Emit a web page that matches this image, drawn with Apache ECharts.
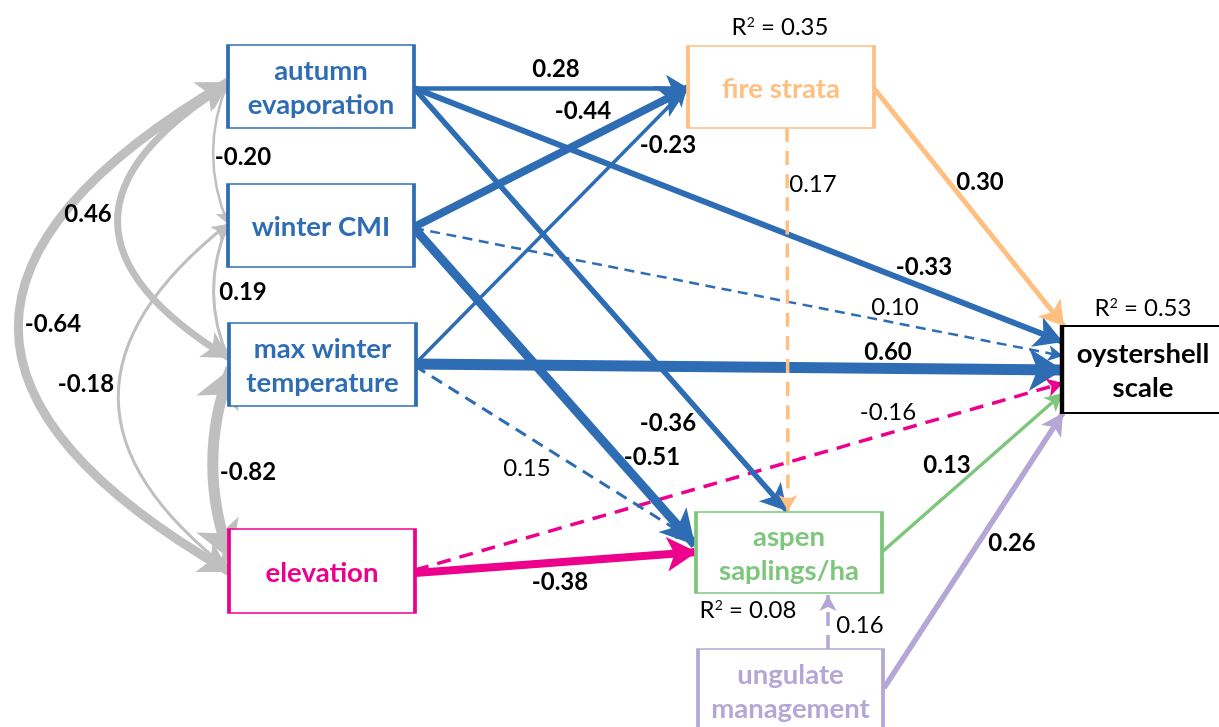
<!DOCTYPE html>
<html><head><meta charset="utf-8">
<script src="https://cdn.jsdelivr.net/npm/echarts@6/dist/echarts.min.js"></script>
<style>html,body{margin:0;padding:0;background:#fff}#c{width:1219px;height:727px}</style>
</head><body><div id="c"></div>
<script>
// ---------------- data ----------------
const nodes = ['autumn evaporation','winter CMI','max winter temperature','elevation','fire strata','aspen saplings/ha','ungulate management','oystershell scale'];
const pathFrom = ['autumn evaporation','winter CMI','max winter temperature','autumn evaporation','winter CMI','max winter temperature','elevation','autumn evaporation','winter CMI','max winter temperature','elevation','fire strata','fire strata','aspen saplings/ha','ungulate management','ungulate management'];
const pathTo = ['fire strata','fire strata','fire strata','oystershell scale','oystershell scale','oystershell scale','oystershell scale','aspen saplings/ha','aspen saplings/ha','aspen saplings/ha','aspen saplings/ha','aspen saplings/ha','oystershell scale','oystershell scale','aspen saplings/ha','oystershell scale'];
const pathCoef = [0.28,-0.44,-0.23,-0.33,0.10,0.60,-0.16,-0.36,-0.51,0.15,-0.38,0.17,0.30,0.13,0.16,0.26];
const pathSignificant = [true,true,true,true,false,true,false,true,true,false,true,false,true,true,false,true];
const corrA = ['autumn evaporation','winter CMI','max winter temperature','autumn evaporation','winter CMI','autumn evaporation'];
const corrB = ['winter CMI','max winter temperature','elevation','max winter temperature','elevation','elevation'];
const corrCoef = [-0.20,0.19,-0.82,0.46,-0.18,-0.64];
const r2Nodes = ['fire strata','oystershell scale','aspen saplings/ha'];
const r2Values = [0.35,0.53,0.08];

// ---------------- layout & style ----------------
const blue='#2E6DB4', pink='#EC008C', peach='#FFBF80', green='#7DC67B', purple='#B4A7D6', gray='#BFBFBF';
const nodeLayout = {
  'autumn evaporation':     {c:[321,86.5],  s:[186,83], color:blue,   text:'autumn\nevaporation', off:[0,2], bw:2.5},
  'winter CMI':             {c:[321,225.5], s:[186,83], color:blue,   text:'winter CMI', off:[0,2], bw:2.5},
  'max winter temperature': {c:[322.5,364.5], s:[187,83], color:blue, text:'max winter\ntemperature', off:[0,2], bw:2.5},
  'elevation':              {c:[322,571],   s:[186,84], color:pink,   text:'elevation', off:[0,2], bw:2.5},
  'fire strata':            {c:[781,87],    s:[186,82], color:peach,  text:'fire strata', off:[0,2], bw:2.5},
  'aspen saplings/ha':      {c:[789,552.5], s:[186,81], color:green,  text:'aspen\nsaplings/ha', off:[0,2], bw:2.5},
  'ungulate management':    {c:[790.5,690.5], s:[185,83], color:purple, text:'ungulate\nmanagement', off:[0,2], bw:2.5},
  'oystershell scale':      {c:[1155,369.5], s:[186,87], color:'#000', text:'oystershell\nscale', off:[-12,2], bw:3}
};
// anchors [x1,y1,x2,y2], width, arrow [length, base], label position
const pathGeom = [[414,88,688,88],[414,227,688,88],[415,364,687,88],[414,88,1063,342],[414,228,1063,356],[414,364,1063,370],[415,570,1063,383],[414,88,787,511],[414,228,695,545],[415,366,693,540],[415,573,697,552],[787,128,788,511],[873,87,1064,326],[882,552,1063,393],[828,649,828,595],[884,688,1063,413]];
const pathWidth = [4.5,8,3.5,6,2.5,11,3.5,5.5,9,3,8,3.5,5,3.5,3.5,5.5];
const pathArrow = [[22,20],[30,26],[18,15],[28,24],[15,12],[34,32],[16,14],[26,22],[34,28],[16,13],[30,26],[16,14],[24,22],[18,14],[16,13],[22,18]];
const pathLabelPos = [[556,69],[583,111],[668,145],[924,267],[895,307],[888,352],[888,412],[668,423],[652,457],[527,468],[560,582],[813,184],[980,182],[947,465],[860,625],[1012,543]];
const corrGeom = [[228,82,228,224],[228,224,229,360],[231,368,231,560],[228,84,229,358],[228,224,230,570],[228,82,230,572]];
const corrCurve = [-0.21,-0.22,-0.19,-0.81,-0.64,-0.86];
const corrWidth = [2.5,3,11,7,3,9];
const corrArrow = [[14,11],[14,12],[38,34],[26,22],[16,13],[30,26]];
const corrLabelPos = [[243,157],[243,292],[248,472],[88,214],[86,384],[53,324]];
const r2LabelPos = [[780,27],[1143,308],[748,610]];

const FONT = 'Lato';

function mkLine(g, c, width, color, dashed, arrow, both) {
  const L = arrow[0], B = arrow[1];
  return {
    coords: [[g[0], g[1]], [g[2], g[3]]],
    lineStyle: {width: width, color: color, type: dashed ? [width*4, width*2.6] : 'solid', curveness: c || 0, opacity: 1},
    symbol: both ? ['arrow','arrow'] : ['none','arrow'],
    symbolSize: [[B, L],[B, L]]
  };
}

const lineData = [];
corrCoef.forEach((v,i) => lineData.push(mkLine(corrGeom[i], corrCurve[i], corrWidth[i], gray, false, corrArrow[i], true)));
pathCoef.forEach((v,i) => lineData.push(mkLine(pathGeom[i], 0, pathWidth[i], nodeLayout[pathFrom[i]].color, !pathSignificant[i], pathArrow[i], false)));

const boxData = nodes.map(n => {
  const l = nodeLayout[n];
  return {
    name: n, value: l.c, symbolSize: l.s,
    itemStyle: {color:'#fff', borderColor: l.color, borderWidth: l.bw, opacity: 1},
    label: {show:true, position:'inside', offset: l.off, formatter: l.text, color: l.color, fontFamily: FONT, fontWeight:'bold', fontSize: 27.5, lineHeight: 34}
  };
});

const fmt = v => v.toFixed(2);
const textData = [];
corrCoef.forEach((v,i) => textData.push({value: corrLabelPos[i], label:{formatter: fmt(v), fontWeight:'bold'}}));
pathCoef.forEach((v,i) => textData.push({value: pathLabelPos[i], label:{formatter: fmt(v), fontWeight: pathSignificant[i] ? 'bold' : 'normal'}}));
r2Values.forEach((v,i) => textData.push({value: r2LabelPos[i], label:{formatter: 'R{s|2} = ' + fmt(v), fontWeight:'normal'}}));

const chart = echarts.init(document.getElementById('c'), null, {renderer:'canvas'});
chart.setOption({
  animation: false,
  backgroundColor: '#fff',
  grid: {left:0, right:0, top:0, bottom:0},
  xAxis: {type:'value', min:0, max:1219, show:false},
  yAxis: {type:'value', min:0, max:727, inverse:true, show:false},
  series: [
    {type:'lines', coordinateSystem:'cartesian2d', z:2, silent:true, data: lineData},
    {type:'scatter', symbol:'rect', z:3, silent:true, clip:false, itemStyle:{opacity:1}, data: boxData},
    {type:'scatter', z:4, silent:true, symbolSize:1, itemStyle:{color:'rgba(0,0,0,0)', opacity:1},
     label:{show:true, position:'inside', color:'#000', fontFamily: FONT, fontSize:24,
            rich:{s:{fontSize:14, verticalAlign:'top', padding:[0,0,10,0], fontFamily: FONT, color:'#000'}}},
     data: textData}
  ]
});
</script></body></html>
